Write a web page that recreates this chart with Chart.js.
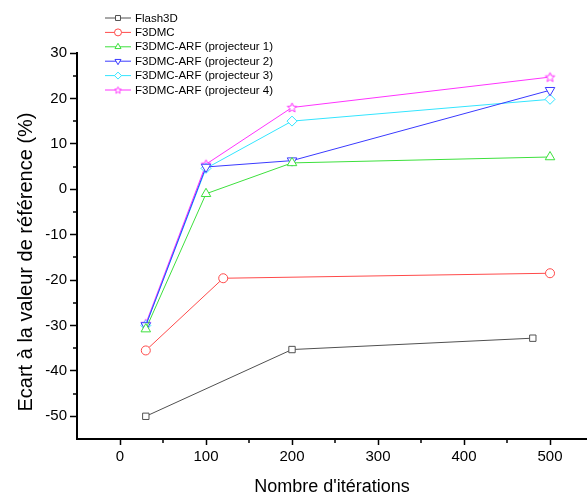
<!DOCTYPE html>
<html>
<head>
<meta charset="utf-8">
<script src="https://cdn.jsdelivr.net/npm/chart.js@4.4.1/dist/chart.umd.min.js"></script>
<style>
  html, body { margin: 0; padding: 0; background: #fff; overflow: hidden; }
  #wrap { width: 594px; height: 500px; position: relative; }
</style>
</head>
<body>
<div id="wrap"><canvas id="chart"></canvas></div>
<script>
// series data
const seriesNames = ['Flash3D', 'F3DMC', 'F3DMC-ARF (projecteur 1)', 'F3DMC-ARF (projecteur 2)',
                     'F3DMC-ARF (projecteur 3)', 'F3DMC-ARF (projecteur 4)'];
const flash3dX = [30, 200, 480];
const flash3dY = [-50, -35.3, -32.8];
const f3dmcX = [30, 120, 500];
const f3dmcY = [-35.5, -19.6, -18.5];
const arfX = [30, 100, 200, 500];
const arf1Y = [-30.8, -1, 5.8, 7.1];
const arf2Y = [-30, 4.9, 6.3, 21.8];
const arf3Y = [-30, 4.6, 15, 19.8];
const arf4Y = [-29.6, 5.5, 18, 24.7];
const xTicks = [0, 100, 200, 300, 400, 500];
const yTicks = [-50, -40, -30, -20, -10, 0, 10, 20, 30];
const xMinor = [50, 150, 250, 350, 450];
const yMinor = [-45, -35, -25, -15, -5, 5, 15, 25];
const yTitle = 'Ecart à la valeur de référence (%)';

const FONT = "'Liberation Sans', Arial, sans-serif";

function pts(xs, ys) { return xs.map((x, i) => ({ x: x, y: ys[i] })); }

function starCanvas(color, ro, ri) {
    const n = Math.ceil(ro * 2 + 3);
    const c = document.createElement('canvas');
    c.width = n; c.height = n;
    const g = c.getContext('2d');
    g.beginPath();
    for (let i = 0; i < 10; i++) {
        const r = i % 2 === 0 ? ro : ri;
        const a = -Math.PI / 2 + i * Math.PI / 5;
        const px = n / 2 + r * Math.cos(a), py = n / 2 + 0.4 + r * Math.sin(a);
        if (i === 0) g.moveTo(px, py); else g.lineTo(px, py);
    }
    g.closePath();
    g.fillStyle = '#fff';
    g.fill();
    g.strokeStyle = color;
    g.lineWidth = 1;
    g.stroke();
    return c;
}

const colors = ['#505050', '#ff4a4a', '#3de03d', '#3a3aff', '#33e5ff', '#ff33ff'];
const styles = ['rect', 'circle', 'triangle', 'triangle', 'rectRot', starCanvas('#ff33ff', 5, 2.2)];
const legendStyles = styles.slice(0, 5).concat([starCanvas('#ff33ff', 3.6, 1.6)]);
const rotations = [0, 0, 0, 180, 0, 0];
const radii = [4.5, 4.5, 5.5, 5.5, 5, 6];
const allData = [pts(flash3dX, flash3dY), pts(f3dmcX, f3dmcY), pts(arfX, arf1Y),
                 pts(arfX, arf2Y), pts(arfX, arf3Y), pts(arfX, arf4Y)];

const datasets = seriesNames.map((name, i) => ({
    label: name,
    data: allData[i],
    borderColor: colors[i],
    backgroundColor: '#fff',
    borderWidth: 1,
    pointStyle: styles[i],
    pointRotation: rotations[i],
    pointRadius: radii[i],
    pointBorderWidth: 1,
    pointBorderColor: colors[i],
    pointBackgroundColor: '#fff',
    tension: 0
}));

// minor ticks, y title and legend in the upper left corner
const extras = {
    id: 'extras',
    afterDraw(chart) {
        const ctx = chart.ctx;
        const xs = chart.scales.x, ys = chart.scales.y;
        ctx.save();
        ctx.strokeStyle = '#000';
        ctx.lineWidth = 1.5;
        ctx.beginPath();
        xMinor.forEach(v => {
            const px = Math.round(xs.getPixelForValue(v));
            ctx.moveTo(px, xs.top); ctx.lineTo(px, xs.top + 4);
        });
        yMinor.forEach(v => {
            const py = Math.round(ys.getPixelForValue(v));
            ctx.moveTo(ys.right, py); ctx.lineTo(ys.right - 4, py);
        });
        ctx.stroke();

        ctx.save();
        ctx.translate(26, 262);
        ctx.rotate(-Math.PI / 2);
        ctx.font = '20px ' + FONT;
        ctx.fillStyle = '#000';
        ctx.textAlign = 'center';
        ctx.textBaseline = 'middle';
        ctx.fillText(yTitle, 0, 0);
        ctx.restore();

        const lx = 105, ly = 18, step = 14.4;
        ctx.font = '11.5px ' + FONT;
        ctx.textBaseline = 'middle';
        ctx.textAlign = 'left';
        seriesNames.forEach((name, i) => {
            const y = ly + i * step;
            ctx.strokeStyle = colors[i];
            ctx.lineWidth = 1;
            ctx.beginPath();
            ctx.moveTo(lx, y); ctx.lineTo(lx + 26, y);
            ctx.stroke();
            ctx.fillStyle = '#fff';
            Chart.helpers.drawPoint(ctx, {
                pointStyle: legendStyles[i], rotation: rotations[i],
                radius: 3.5, borderWidth: 1
            }, lx + 13, y);
            ctx.fillStyle = '#000';
            ctx.fillText(name, lx + 30, y + 0.5);
        });
        ctx.restore();
    }
};

new Chart(document.getElementById('chart'), {
    type: 'line',
    data: { datasets: datasets },
    options: {
        responsive: true,
        maintainAspectRatio: false,
        animation: false,
        layout: { padding: { top: 53, right: 0, bottom: 0, left: 0 } },
        plugins: { legend: { display: false }, tooltip: { enabled: false } },
        scales: {
            x: {
                type: 'linear',
                min: -50, max: 543,
                afterBuildTicks: s => { s.ticks = xTicks.map(v => ({ value: v })); },
                afterFit: s => { s.height = 61; s.paddingLeft = 0; s.paddingRight = 0; },
                border: { display: true, color: '#000', width: 2 },
                grid: { drawOnChartArea: false, drawTicks: true, tickLength: 6, tickColor: '#000', tickWidth: 1.5 },
                ticks: { color: '#000', font: { family: FONT, size: 15 }, padding: 3, maxRotation: 0 },
                title: { display: true, text: "Nombre d'itérations", color: '#000',
                         font: { family: FONT, size: 18 }, padding: { top: 0, bottom: 2 } }
            },
            y: {
                type: 'linear',
                min: -55, max: 30,
                afterBuildTicks: s => { s.ticks = yTicks.map(v => ({ value: v })); },
                afterFit: s => { s.width = 77; s.paddingTop = 0; s.paddingBottom = 0; },
                border: { display: true, color: '#000', width: 2 },
                grid: { drawOnChartArea: false, drawTicks: true, tickLength: 7, tickColor: '#000', tickWidth: 1.5 },
                ticks: { color: '#000', font: { family: FONT, size: 15 }, padding: 3 },
                title: { display: false }
            }
        }
    },
    plugins: [extras]
});
</script>
</body>
</html>
